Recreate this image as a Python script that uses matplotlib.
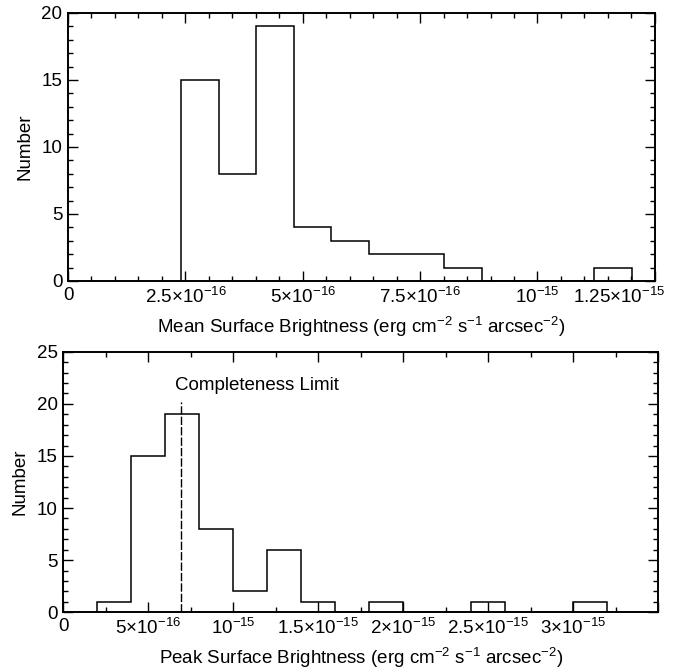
import matplotlib
matplotlib.use("Agg")
import matplotlib.pyplot as plt
from matplotlib.ticker import FixedLocator, MultipleLocator
from matplotlib.transforms import ScaledTranslation

plt.rcParams['font.family'] = ['Liberation Sans', 'DejaVu Sans']
plt.rcParams['mathtext.fontset'] = 'custom'
plt.rcParams['mathtext.rm'] = 'Liberation Sans'
plt.rcParams['mathtext.it'] = 'Liberation Sans:italic'
plt.rcParams['mathtext.bf'] = 'Liberation Sans:bold'

# Mean surface brightness histogram (units of 1e-16)
mean_edges = [2.41, 3.21, 4.01, 4.81, 5.61, 6.41, 7.21, 8.01, 8.81, 9.61, 10.41, 11.21, 12.01]
mean_counts = [15, 8, 19, 4, 3, 2, 2, 1, 0, 0, 0, 1]
mean_ticks = [0, 2.5e-16, 5e-16, 7.5e-16, 1e-15, 1.25e-15]
mean_labels = ['0', r'2.5×10$^{-16}$', r'5×10$^{-16}$', r'7.5×10$^{-16}$',
               r'10$^{-15}$', r'1.25×10$^{-15}$']

# Peak surface brightness histogram (units of 1e-16)
peak_edges = [2, 4, 6, 8, 10, 12, 14, 16, 18, 20, 22, 24, 26, 28, 30, 32]
peak_counts = [1, 15, 19, 8, 2, 6, 1, 0, 1, 0, 0, 1, 0, 0, 1]
peak_ticks = [0, 5e-16, 1e-15, 1.5e-15, 2e-15, 2.5e-15, 3e-15, 3.5e-15]
peak_labels = ['0', r'5×10$^{-16}$', r'10$^{-15}$', r'1.5×10$^{-15}$',
               r'2×10$^{-15}$', r'2.5×10$^{-15}$', r'3×10$^{-15}$', '']

completeness_limit = 6.92e-16
completeness_top = 20.2

FS = 13.5

fig = plt.figure(figsize=(6.85, 6.69), dpi=100)
ax1 = fig.add_axes([0.0993, 0.580, 0.8567, 0.4006])
ax2 = fig.add_axes([0.0924, 0.0848, 0.8686, 0.3895])


def style(ax, xminor, ymax):
    for s in ax.spines.values():
        s.set_linewidth(1.4)
    ax.yaxis.set_major_locator(MultipleLocator(5))
    ax.yaxis.set_minor_locator(MultipleLocator(1))
    ax.xaxis.set_minor_locator(MultipleLocator(xminor))
    ax.set_ylim(0, ymax)
    ax.tick_params(which='both', direction='in', top=True, right=True,
                   labelsize=FS, width=1.0, pad=4)
    ax.tick_params(which='major', length=7.2)
    ax.tick_params(which='minor', length=3.8)
    ax.set_ylabel('Number', fontsize=FS, labelpad=6)


# top panel
ax1.stairs(mean_counts, [e * 1e-16 for e in mean_edges], baseline=0,
           color='black', linewidth=1.1)
ax1.set_xlim(0, 1.25e-15)
ax1.xaxis.set_major_locator(FixedLocator(mean_ticks))
ax1.set_xticklabels(mean_labels)
style(ax1, 0.5e-16, 20)
ax1.set_xlabel(r'Mean Surface Brightness (erg cm$^{-2}$ s$^{-1}$ arcsec$^{-2}$)',
               fontsize=FS, labelpad=6)
last = ax1.get_xticklabels()[-1]
last.set_transform(last.get_transform() + ScaledTranslation(-0.36, 0, fig.dpi_scale_trans))

# bottom panel
ax2.stairs(peak_counts, [e * 1e-16 for e in peak_edges], baseline=0,
           color='black', linewidth=1.1)
ax2.set_xlim(0, 3.5e-15)
ax2.xaxis.set_major_locator(FixedLocator(peak_ticks))
ax2.set_xticklabels(peak_labels)
style(ax2, 2.5e-16, 25)
ax2.set_xlabel(r'Peak Surface Brightness (erg cm$^{-2}$ s$^{-1}$ arcsec$^{-2}$)',
               fontsize=FS, labelpad=6)
ax2.plot([completeness_limit, completeness_limit], [0, completeness_top],
         color='black', linewidth=1.0, linestyle=(0, (6, 1.5)))
ax2.text(6.55e-16, 21.3, 'Completeness Limit', fontsize=FS,
         ha='left', va='baseline')

fig.savefig('out.png', dpi=100)
